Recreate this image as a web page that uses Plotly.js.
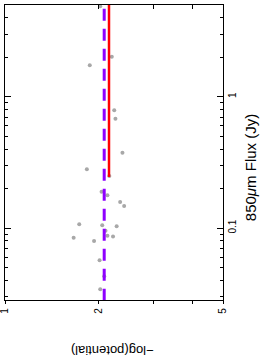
<!DOCTYPE html>
<html>
<head>
<meta charset="utf-8">
<script src="https://cdn.plot.ly/plotly-3.0.1.min.js"></script>
<style>html,body{margin:0;padding:0;background:#fff;}#chart{width:263px;height:362px;}</style>
</head>
<body>
<div id="chart"></div>
<script>
// -log(potential) values of the gray points
var pointPotential = [2.02, 2.20, 1.87, 2.24, 2.26, 2.38, 1.83, 2.16, 2.04, 2.13, 2.34, 2.41, 1.73, 2.05, 2.28, 2.10, 1.66, 2.13, 2.22, 1.93, 2.01, 2.08, 2.02, 1.78, 1.84];
// 850um flux (Jy) of the gray points
var pointFlux = [4.9, 2.02, 1.74, 0.79, 0.68, 0.374, 0.280, 0.249, 0.189, 0.178, 0.158, 0.147, 0.107, 0.105, 0.103, 0.0952, 0.0842, 0.0873, 0.0863, 0.0795, 0.0569, 0.043, 0.0342, 0.0279, 0.0279];

// red solid line
var redPotential = [2.155, 2.155];
var redFlux = [0.245, 5];
// purple dashed line
var purplePotential = [2.08, 2.08];
var purpleFlux = [0.0279, 5];

// axis ranges and ticks
var potentialRange = [1, 5];
var fluxRange = [0.0283, 5];
var potentialTicks = [1, 2, 3, 4, 5];
var potentialTickText = ['1', '2', '', '', '5'];
var fluxMajorTicks = [0.1, 1];
var fluxMajorText = ['0.1', '1'];
var fluxMinorTicks = [0.03, 0.04, 0.05, 0.06, 0.07, 0.08, 0.09, 0.2, 0.3, 0.4, 0.5, 0.6, 0.7, 0.8, 0.9, 2, 3, 4];

var xr = potentialRange.map(Math.log10);
var yr = fluxRange.map(Math.log10);

var traces = [
  {x: pointPotential, y: pointFlux, type: 'scatter', mode: 'markers',
   marker: {color: '#a8a8a8', size: 4}, cliponaxis: false, hoverinfo: 'skip'},
  {x: purplePotential, y: purpleFlux, type: 'scatter', mode: 'lines',
   line: {color: '#8f00ff', width: 3, dash: '12px,8px'}, hoverinfo: 'skip'},
  {x: redPotential, y: redFlux, type: 'scatter', mode: 'lines',
   line: {color: '#ff0000', width: 2.5}, hoverinfo: 'skip'},
  // invisible trace that activates the top tick axis
  {x: redPotential, y: redFlux, xaxis: 'x2', yaxis: 'y', type: 'scatter', mode: 'markers',
   marker: {opacity: 0}, hoverinfo: 'skip'}
];

var fam = 'Liberation Sans, Arial, sans-serif';

var layout = {
  width: 263, height: 362,
  margin: {l: 5, r: 40, t: 5, b: 62},
  showlegend: false,
  paper_bgcolor: '#fff', plot_bgcolor: '#fff',
  xaxis: {type: 'log', range: xr, autorange: false, tickvals: potentialTicks, ticktext: potentialTickText,
          tickangle: -90, ticks: 'outside', ticklen: 3, tickcolor: '#000', tickwidth: 1,
          ticklabeloverflow: 'allow',
          showline: true, linecolor: '#000', linewidth: 1.2, mirror: true,
          showgrid: false, zeroline: false, tickfont: {family: fam, size: 10, color: '#000'}},
  xaxis2: {type: 'log', range: xr, autorange: false, overlaying: 'x', side: 'top', anchor: 'y',
           tickvals: potentialTicks, ticks: 'inside', ticklen: 4, tickcolor: '#000', tickwidth: 1,
           showticklabels: false, showgrid: false, zeroline: false, showline: false},
  yaxis: {type: 'log', range: yr, autorange: false, side: 'right', tickvals: fluxMajorTicks, ticktext: fluxMajorText,
          tickangle: -90, ticks: 'inside', ticklen: 6, tickcolor: '#000', tickwidth: 1,
          ticklabeloverflow: 'allow',
          minor: {tickmode: 'array', tickvals: fluxMinorTicks, ticks: 'inside', ticklen: 3, tickcolor: '#000', tickwidth: 1, showgrid: false},
          showline: true, linecolor: '#000', linewidth: 1.2, mirror: 'ticks',
          showgrid: false, zeroline: false, tickfont: {family: fam, size: 10, color: '#000'}},
  annotations: [
    {text: '\u2212log(potential)', xref: 'paper', yref: 'paper', x: 0.49, y: -0.169,
     xanchor: 'center', yanchor: 'middle', showarrow: false, textangle: 180,
     font: {family: fam, size: 13, color: '#000'}},
    {text: '850<i>\u03bc</i>m Flux (Jy)', xref: 'paper', yref: 'paper', x: 1.124, y: 0.447,
     xanchor: 'center', yanchor: 'middle', showarrow: false, textangle: -90,
     font: {family: fam, size: 15, color: '#000'}}
  ]
};

Plotly.newPlot('chart', traces, layout, {staticPlot: true, displayModeBar: false});
</script>
</body>
</html>
